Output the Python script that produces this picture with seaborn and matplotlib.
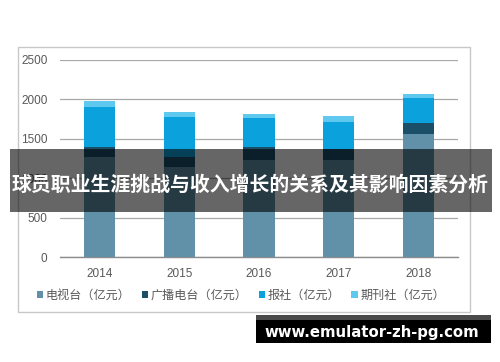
import matplotlib
matplotlib.use("Agg")
import matplotlib.pyplot as plt
import seaborn as sns
import numpy as np
import pandas as pd
from matplotlib.patches import Patch, Rectangle

years = ["2014", "2015", "2016", "2017", "2018"]
tv = [1273, 1146, 1231, 1235, 1561]
radio = [127, 127, 169, 135, 144]
newspaper = [507, 507, 360, 347, 309]
magazine = [76, 64, 55, 72, 54]
series_names = ["电视台（亿元）", "广播电台（亿元）", "报社（亿元）", "期刊社（亿元）"]
colors = ["#6191a8", "#1b4f68", "#0aa1dd", "#5fc8ee"]
yticks = [0, 500, 1000, 1500, 2000, 2500]
title = "球员职业生涯挑战与收入增长的关系及其影响因素分析"
watermark = "www.emulator-zh-pg.com"

sns.set_theme(style="white")
plt.rcParams["font.family"] = ["Liberation Sans", "Noto Sans CJK SC", "DejaVu Sans"]

W, H = 500, 362
fig = plt.figure(figsize=(W / 100, H / 100), dpi=100)
fig.patch.set_facecolor("white")
ax = fig.add_axes([60 / W, 1 - 257 / H, 398 / W, 197 / H])

df = pd.DataFrame({"year": years, "tv": tv, "radio": radio,
                   "newspaper": newspaper, "magazine": magazine})
stacks = [df["tv"],
          df["tv"] + df["radio"],
          df["tv"] + df["radio"] + df["newspaper"],
          df["tv"] + df["radio"] + df["newspaper"] + df["magazine"]]
for level in range(3, -1, -1):
    sns.barplot(x=df["year"], y=stacks[level], color=colors[level], width=0.39,
                saturation=1, ax=ax, order=years, zorder=3, edgecolor="none")

ax.set_ylim(0, 2500)
ax.set_xlim(-0.5, 4.5)
ax.set_yticks(yticks)
ax.set_yticklabels([str(v) for v in yticks])
ax.set_xlabel("")
ax.set_ylabel("")
ax.yaxis.grid(True, color="#a8a8a8", linewidth=0.9, zorder=0)
ax.set_axisbelow(True)
for s in ["top", "right", "left"]:
    ax.spines[s].set_visible(False)
ax.spines["bottom"].set_color("#8c8c8c")
ax.spines["bottom"].set_linewidth(1.0)
ax.tick_params(axis="y", length=0, pad=9, labelsize=8.5, labelcolor="#595959")
ax.tick_params(axis="x", length=0, pad=8, labelsize=8.5, labelcolor="#595959")

handles = [Patch(facecolor=c, edgecolor="none") for c in colors]
fig.legend(handles, series_names, loc="center", bbox_to_anchor=(241 / W, 1 - 296 / H),
           ncol=4, frameon=False, fontsize=8.7, handlelength=0.55, handleheight=0.55,
           handletextpad=0.2, columnspacing=0.9, labelcolor="#595959",
           borderaxespad=0, borderpad=0)

# outer frame
fig.patches.append(Rectangle((18 / W, 1 - 312 / H), (470 - 18) / W, (312 - 47) / H,
                             transform=fig.transFigure, fill=False,
                             edgecolor="#c8c8c8", linewidth=1.0, zorder=1))

# title banner
fig.patches.append(Rectangle((10 / W, 1 - 212 / H), (492 - 10) / W, (212 - 149) / H,
                             transform=fig.transFigure, facecolor="black", alpha=0.6,
                             edgecolor="none", zorder=5))
fig.text(250 / W, 1 - 184 / H, title, ha="center", va="center", color="white",
         fontsize=14.3, fontweight="bold", family=["Noto Sans CJK SC"], zorder=6)

# watermark box
fig.patches.append(Rectangle((256 / W, 1 - 343 / H), (491 - 256) / W, (343 - 315) / H,
                             transform=fig.transFigure, facecolor="black",
                             edgecolor="none", zorder=5))
fig.patches.append(Rectangle((256 / W, 1 - 320 / H), (491 - 256) / W, 5 / H,
                             transform=fig.transFigure, facecolor="#4a4a4a",
                             edgecolor="none", zorder=5))
fig.text(372 / W, 1 - 332 / H, watermark, ha="center", va="center", color="white",
         fontsize=10.7, fontweight="bold", family=["DejaVu Sans"], zorder=6)

fig.savefig("out.png", dpi=100)
